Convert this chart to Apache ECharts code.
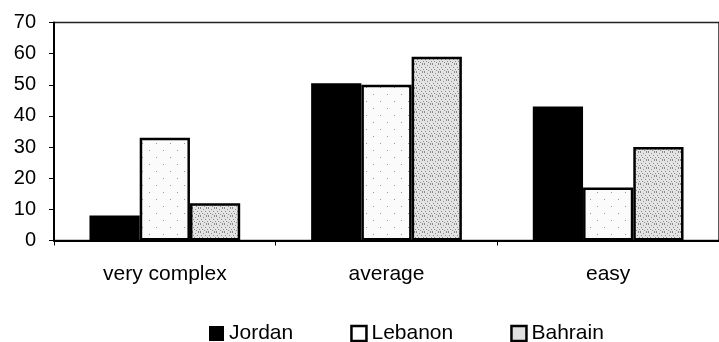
<!DOCTYPE html>
<html>
<head>
<meta charset="utf-8">
<script src="https://cdn.jsdelivr.net/npm/echarts@6/dist/echarts.min.js"></script>
<style>
  html, body { margin: 0; padding: 0; background: #fff; }
  #chart { width: 719px; height: 342px; }
</style>
</head>
<body>
<div id="chart"></div>
<script>
// Categories and per-country values (percent)
var categories = ['very complex', 'average', 'easy'];
var jordan = [8, 50.5, 43];
var lebanon = [33, 50, 17];
var bahrain = [12, 59, 30];
var yTicks = [0, 10, 20, 30, 40, 50, 60, 70];

// Stippled fills made of a fixed dot layout on a small tile
function stipple(base, dot, points, size) {
  var c = document.createElement('canvas');
  c.width = size; c.height = size;
  var g = c.getContext('2d');
  g.fillStyle = base; g.fillRect(0, 0, size, size);
  g.fillStyle = dot;
  points.forEach(function (p) { g.fillRect(p[0], p[1], 1, 1); });
  return { image: c, repeat: 'repeat' };
}
var bahrainFill = stipple('#e4e4e4', '#8a8a8a',
  [[0,0],[3,1],[6,0],[1,3],[5,3],[2,5],[7,5],[4,6],[0,7],[6,7]], 8);
var lebanonFill = stipple('#fbfbfb', '#9a9a9a', [[2,3],[9,10]], 14);

var FONT = 'Liberation Sans';
var chart = echarts.init(document.getElementById('chart'), null, { renderer: 'canvas' });
chart.setOption({
  animation: false,
  backgroundColor: '#fff',
  grid: {
    left: 54, right: -9, top: 22.5, bottom: 101.5,
    show: true, borderColor: '#222', borderWidth: 1.5, backgroundColor: 'transparent'
  },
  legend: {
    left: 204, top: 318,
    itemWidth: 15, itemHeight: 15, itemGap: 57,
    textStyle: { fontFamily: FONT, fontSize: 21, color: '#000' },
    data: [
      { name: 'Jordan', icon: 'rect', itemStyle: { color: '#000', borderColor: '#000', borderWidth: 0 } },
      { name: 'Lebanon', icon: 'rect', itemStyle: { color: '#fff', borderColor: '#000', borderWidth: 2.5 } },
      { name: 'Bahrain', icon: 'rect', itemStyle: { color: '#e0e0e0', borderColor: '#000', borderWidth: 2.5 } }
    ]
  },
  xAxis: {
    type: 'category',
    data: categories,
    axisLine: { show: true, lineStyle: { color: '#000', width: 2 } },
    axisTick: { show: true, inside: false, length: 5, lineStyle: { color: '#000', width: 1 } },
    axisLabel: { fontFamily: FONT, fontSize: 21, color: '#000', margin: 23 }
  },
  yAxis: {
    type: 'value',
    min: yTicks[0], max: yTicks[yTicks.length - 1], interval: 10,
    axisLine: { show: true, lineStyle: { color: '#000', width: 2 } },
    axisTick: { show: true, length: 5, lineStyle: { color: '#000', width: 1 } },
    axisLabel: { fontFamily: FONT, fontSize: 20, color: '#000', margin: 18 },
    splitLine: { show: false }
  },
  series: [
    {
      name: 'Jordan', type: 'bar', data: jordan,
      barGap: '0%', barCategoryGap: '32%',
      itemStyle: { color: '#000' }
    },
    {
      name: 'Lebanon', type: 'bar', data: lebanon,
      itemStyle: { color: lebanonFill, borderColor: '#000', borderWidth: 2.5 }
    },
    {
      name: 'Bahrain', type: 'bar', data: bahrain,
      itemStyle: { color: bahrainFill, borderColor: '#000', borderWidth: 2.5 }
    }
  ]
});
</script>
</body>
</html>
